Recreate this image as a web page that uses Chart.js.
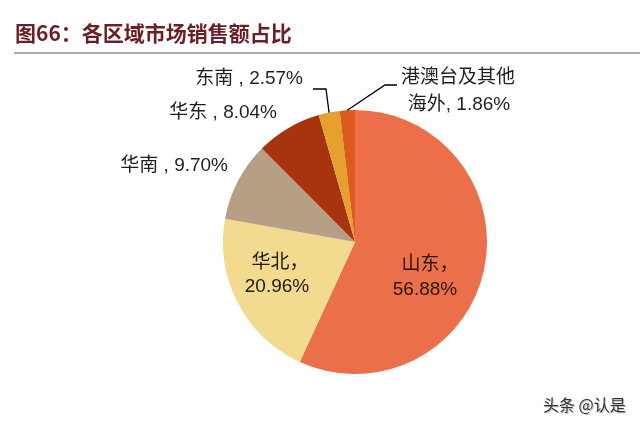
<!DOCTYPE html>
<html>
<head>
<meta charset="utf-8">
<script src="https://cdn.jsdelivr.net/npm/chart.js@4.4.0/dist/chart.umd.min.js"></script>
<style>
html,body{margin:0;padding:0;background:#fff;}
#wrap{position:relative;width:640px;height:427px;}
canvas{display:block;}
</style>
</head>
<body>
<div id="wrap"><canvas id="c" width="640" height="427"></canvas></div>
<script>
// ---- data ----
const categories = ['山东', '华北', '华南', '华东', '东南', '港澳台及其他海外'];
const shares = [56.88, 20.96, 9.70, 8.04, 2.57, 1.86];
const titleText = '图66：各区域市场销售额占比';
const watermark = '头条 @认是';

// ---- styles / layout ----
const colors = ['#EB7049', '#F2DA8E', '#B5A085', '#A8330F', '#E6A02E', '#DC5A1C'];
const FONT = '"Liberation Sans", Arial, "Noto Sans CJK SC", sans-serif';
// label layout relative to pie centre: lines, x/y offsets, alignment, optional leader elbow
const labelLayout = [
  {lines: (c, v) => [c + '，', v + '%'], dx: [75, 70], dy: [23, 48], align: 'center', size: 19, color: '#2a1610'},
  {lines: (c, v) => [c + '，', v + '%'], dx: [-75, -78], dy: [21, 45], align: 'center', size: 19, color: '#1e1a14'},
  {lines: (c, v) => [c + ' , ' + v + '%'], dx: [-127], dy: [-76], align: 'right', size: 19},
  {lines: (c, v) => [c + ' , ' + v + '%'], dx: [-78], dy: [-129], align: 'right', size: 19},
  {lines: (c, v) => [c + ' , ' + v + '%'], dx: [-52], dy: [-163], align: 'right', size: 19,
   leader: [[-42, -153], [-29, -153]]},
  {lines: (c, v) => ['港澳台及其他', '海外, ' + v + '%'], dx: [103, 104], dy: [-164, -137], align: 'center', size: 19,
   leader: [[42, -157], [30, -157]]}
];

const decor = {
  id: 'decor',
  beforeDraw(chart) {
    const ctx = chart.ctx;
    ctx.save();
    ctx.fillStyle = '#fff';
    ctx.fillRect(0, 0, chart.width, chart.height);
    ctx.fillStyle = '#6A1F27';
    ctx.font = 'bold 21px "Noto Sans CJK SC", "Liberation Sans", sans-serif';
    ctx.textBaseline = 'middle';
    ctx.textAlign = 'left';
    ctx.fillText(titleText, 15, 33);
    ctx.strokeStyle = '#A08A88';
    ctx.lineWidth = 1.5;
    ctx.beginPath();
    ctx.moveTo(14, 53);
    ctx.lineTo(640, 53);
    ctx.stroke();
    ctx.restore();
  },
  afterDatasetsDraw(chart) {
    const ctx = chart.ctx;
    const meta = chart.getDatasetMeta(0);
    ctx.save();
    meta.data.forEach((arc, i) => {
      const p = arc.getProps(['x', 'y', 'startAngle', 'endAngle', 'outerRadius'], true);
      const L = labelLayout[i];
      const vals = chart.data.datasets[0].data;
      const txt = L.lines(chart.data.labels[i], vals[i].toFixed(2));
      ctx.fillStyle = L.color || '#1f1f1f';
      ctx.font = L.size + 'px ' + FONT;
      ctx.textBaseline = 'middle';
      ctx.textAlign = L.align;
      txt.forEach((t, k) => ctx.fillText(t, p.x + L.dx[k], p.y + L.dy[k]));
      if (L.leader) {
        const mid = (p.startAngle + p.endAngle) / 2;
        const ex = p.x + Math.cos(mid) * p.outerRadius;
        const ey = p.y + Math.sin(mid) * p.outerRadius;
        ctx.strokeStyle = '#000';
        ctx.lineWidth = 1.3;
        ctx.beginPath();
        ctx.moveTo(p.x + L.leader[0][0], p.y + L.leader[0][1]);
        ctx.lineTo(p.x + L.leader[1][0], p.y + L.leader[1][1]);
        ctx.lineTo(ex, ey);
        ctx.stroke();
      }
    });
    // watermark
    ctx.font = '16px "Noto Sans CJK SC", sans-serif';
    ctx.textAlign = 'left';
    ctx.fillStyle = 'rgba(150,150,150,0.6)';
    ctx.fillText(watermark, 544, 406);
    ctx.fillStyle = '#333';
    ctx.fillText(watermark, 543, 405);
    ctx.restore();
  }
};

new Chart(document.getElementById('c'), {
  type: 'pie',
  data: {
    labels: categories,
    datasets: [{
      data: shares,
      backgroundColor: colors,
      borderColor: colors,
      borderWidth: 0
    }]
  },
  options: {
    responsive: false,
    animation: false,
    rotation: 0,
    layout: {padding: {top: 110, bottom: 53, left: 223, right: 153}},
    plugins: {legend: {display: false}, tooltip: {enabled: false}, title: {display: false}}
  },
  plugins: [decor]
});
</script>
</body>
</html>
